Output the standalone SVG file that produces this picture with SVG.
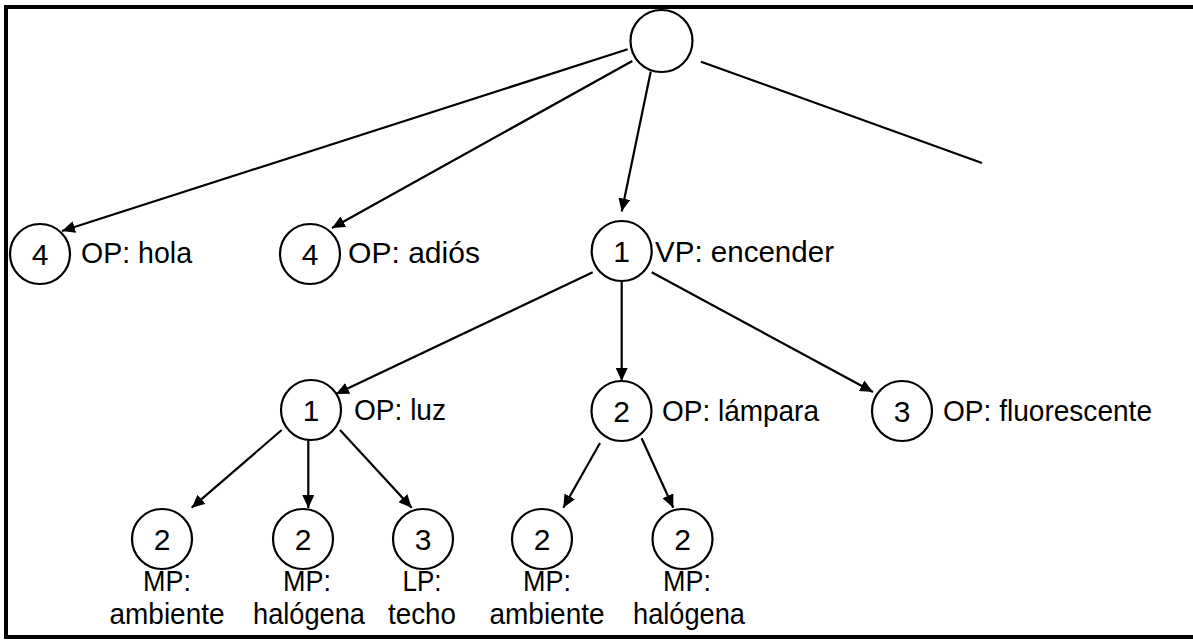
<svg xmlns="http://www.w3.org/2000/svg" width="1193" height="641" viewBox="0 0 1193 641">
  <defs>
    <style>
      .frame { stroke: #000; stroke-width: 4; fill: none; }
      .node { fill: #fff; stroke: #000; stroke-width: 2.2; }
      .edge { stroke: #000; stroke-width: 2.2; fill: none; }
      .arrow { marker-end: url(#head); }
      text { font-family: "Liberation Sans", Arial, sans-serif; font-size: 29px; fill: #000; }
      .num { text-anchor: middle; font-size: 30px; }
      .mid { text-anchor: middle; }
    </style>
    <marker id="head" markerUnits="userSpaceOnUse" markerWidth="14" markerHeight="12" refX="13" refY="6" orient="auto">
      <path d="M0,0 L13,6 L0,12 Z" fill="#000"/>
    </marker>
  </defs>

  <rect width="1193" height="641" fill="#fff"/>

  <!-- open frame: top, left and bottom edges only -->
  <path class="frame" d="M1193,7 L6,7 L6,637 L1193,637"/>

  <g id="connectors">
    <line class="edge arrow" x1="627.7" y1="49.3" x2="62" y2="231"/>
    <line class="edge arrow" x1="632.3" y1="61" x2="332" y2="228"/>
    <line class="edge arrow" x1="650.7" y1="71.7" x2="621.7" y2="211.5"/>
    <line class="edge" x1="701" y1="61.7" x2="982" y2="163"/>
    <line class="edge arrow" x1="592.7" y1="272.3" x2="336" y2="394"/>
    <line class="edge arrow" x1="621.7" y1="275" x2="621.7" y2="381"/>
    <line class="edge arrow" x1="651.7" y1="272.3" x2="873" y2="392"/>
    <line class="edge arrow" x1="281.7" y1="430" x2="191.7" y2="507.7"/>
    <line class="edge arrow" x1="308.3" y1="440" x2="308.3" y2="508"/>
    <line class="edge arrow" x1="340" y1="430" x2="411.7" y2="507.7"/>
    <line class="edge arrow" x1="600" y1="443" x2="563.3" y2="507.7"/>
    <line class="edge arrow" x1="641.6" y1="438.3" x2="673.3" y2="507.7"/>
  </g>

  <g id="root">
    <circle class="node" cx="661.5" cy="41" r="31"/>
  </g>

  <g id="hola">
    <circle class="node" cx="40" cy="254" r="30"/>
    <text class="num" x="40" y="265">4</text>
    <text x="81" y="263" textLength="111" lengthAdjust="spacingAndGlyphs">OP: hola</text>
  </g>

  <g id="adios">
    <circle class="node" cx="310" cy="254" r="30"/>
    <text class="num" x="310" y="265">4</text>
    <text x="348" y="263" textLength="132" lengthAdjust="spacingAndGlyphs">OP: adiós</text>
  </g>

  <g id="encender">
    <circle class="node" cx="621.7" cy="251" r="30"/>
    <text class="num" x="621.7" y="262">1</text>
    <text x="655" y="262" textLength="179" lengthAdjust="spacingAndGlyphs">VP: encender</text>
  </g>

  <g id="luz">
    <circle class="node" cx="311" cy="410" r="30"/>
    <text class="num" x="311" y="421">1</text>
    <text x="354" y="420" textLength="92" lengthAdjust="spacingAndGlyphs">OP: luz</text>
  </g>

  <g id="lampara">
    <circle class="node" cx="621.5" cy="411" r="30"/>
    <text class="num" x="621.5" y="422">2</text>
    <text x="662" y="421" textLength="157" lengthAdjust="spacingAndGlyphs">OP: lámpara</text>
  </g>

  <g id="fluorescente">
    <circle class="node" cx="902" cy="411" r="30"/>
    <text class="num" x="902" y="422">3</text>
    <text x="943" y="421" textLength="209" lengthAdjust="spacingAndGlyphs">OP: fluorescente</text>
  </g>

  <g id="ambiente-luz">
    <circle class="node" cx="162" cy="539" r="30"/>
    <text class="num" x="162" y="550">2</text>
    <text class="mid" x="167" y="591" textLength="48" lengthAdjust="spacingAndGlyphs">MP:</text>
    <text class="mid" x="167" y="624" textLength="115" lengthAdjust="spacingAndGlyphs">ambiente</text>
  </g>

  <g id="halogena-luz">
    <circle class="node" cx="303" cy="539" r="30"/>
    <text class="num" x="303" y="550">2</text>
    <text class="mid" x="307" y="591" textLength="48" lengthAdjust="spacingAndGlyphs">MP:</text>
    <text class="mid" x="309" y="624" textLength="112" lengthAdjust="spacingAndGlyphs">halógena</text>
  </g>

  <g id="techo">
    <circle class="node" cx="423" cy="539" r="30"/>
    <text class="num" x="423" y="550">3</text>
    <text class="mid" x="422" y="591" textLength="39" lengthAdjust="spacingAndGlyphs">LP:</text>
    <text class="mid" x="422" y="624" textLength="68" lengthAdjust="spacingAndGlyphs">techo</text>
  </g>

  <g id="ambiente-lampara">
    <circle class="node" cx="542" cy="539" r="30"/>
    <text class="num" x="542" y="550">2</text>
    <text class="mid" x="547" y="591" textLength="48" lengthAdjust="spacingAndGlyphs">MP:</text>
    <text class="mid" x="547" y="624" textLength="115" lengthAdjust="spacingAndGlyphs">ambiente</text>
  </g>

  <g id="halogena-lampara">
    <circle class="node" cx="682.5" cy="539" r="30"/>
    <text class="num" x="682.5" y="550">2</text>
    <text class="mid" x="687" y="591" textLength="48" lengthAdjust="spacingAndGlyphs">MP:</text>
    <text class="mid" x="689" y="624" textLength="112" lengthAdjust="spacingAndGlyphs">halógena</text>
  </g>
</svg>
